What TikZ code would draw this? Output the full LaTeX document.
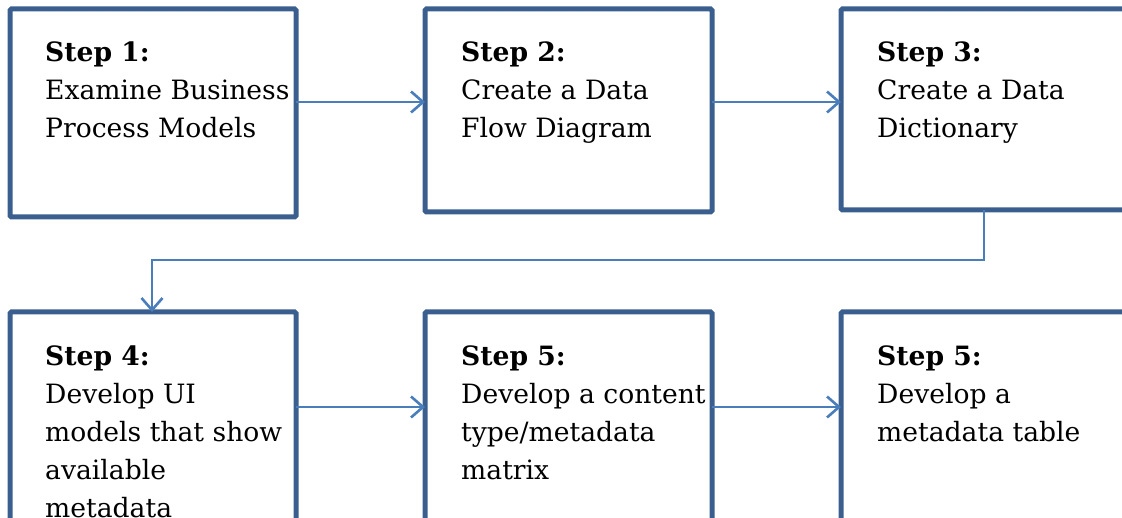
\documentclass[tikz,border=0pt]{standalone}
\usepackage{fontspec}
\setmainfont{DejaVu Serif}
\usetikzlibrary{arrows.meta,calc}
\definecolor{boxblue}{HTML}{3A5F8F}
\definecolor{arrblue}{HTML}{4A7EBB}
\begin{document}
\begin{tikzpicture}[x=1pt,y=-1pt,
 stepbox/.style={draw=boxblue, line width=5pt, rounded corners=1.5pt, inner sep=0pt, outer sep=0pt, anchor=north west},
 steptext/.style={anchor=north west, inner sep=0pt, align=left, font=\fontsize{26.6}{38}\selectfont},
 conn/.style={draw=arrblue, line width=2.6pt, -{Straight Barb[length=12pt,width=21pt,line width=2.6pt]}}]
\useasboundingbox (0,0) rectangle (1122,518);
\clip (0,0) rectangle (1122,518);
\node[stepbox, minimum width=286pt, minimum height=208pt] (b1) at (10,9) {};
\node[stepbox, minimum width=287pt, minimum height=203pt] (b2) at (425,9) {};
\node[stepbox, minimum width=300pt, minimum height=201pt] (b3) at (841,9) {};
\node[stepbox, minimum width=286pt, minimum height=248pt] (b4) at (10,312) {};
\node[stepbox, minimum width=287pt, minimum height=248pt] (b5) at (425,312) {};
\node[stepbox, minimum width=300pt, minimum height=248pt] (b6) at (841,312) {};
\node[steptext] (t1) at ($(b1.north west)+(35,33)$) {\textbf{Step 1:}\\Examine Business\\Process Models};
\node[steptext] (t2) at ($(b2.north west)+(36,33)$) {\textbf{Step 2:}\\Create a Data\\Flow Diagram};
\node[steptext] (t3) at ($(b3.north west)+(36,33)$) {\textbf{Step 3:}\\Create a Data\\Dictionary};
\node[steptext] (t4) at ($(b4.north west)+(35,34)$) {\textbf{Step 4:}\\Develop UI\\models that show\\available\\metadata};
\node[steptext] (t5) at ($(b5.north west)+(36,34)$) {\textbf{Step 5:}\\Develop a content\\type/metadata\\matrix};
\node[steptext] (t6) at ($(b6.north west)+(36,34)$) {\textbf{Step 5:}\\Develop a\\metadata table};
\draw[conn] ($(b1.north east)+(0,93)$) -- ($(b2.north west)+(0,93)$);
\draw[conn] ($(b2.north east)+(0,93)$) -- ($(b3.north west)+(0,93)$);
\draw[conn] ($(b4.north east)+(0,95)$) -- ($(b5.north west)+(0,95)$);
\draw[conn] ($(b5.north east)+(0,95)$) -- ($(b6.north west)+(0,95)$);
\draw[conn] ($(b3.south west)+(143,0)$) |- ($(b4.north west)+(142,-52)$) -- ($(b4.north west)+(142,0)$);
\end{tikzpicture}
\end{document}
